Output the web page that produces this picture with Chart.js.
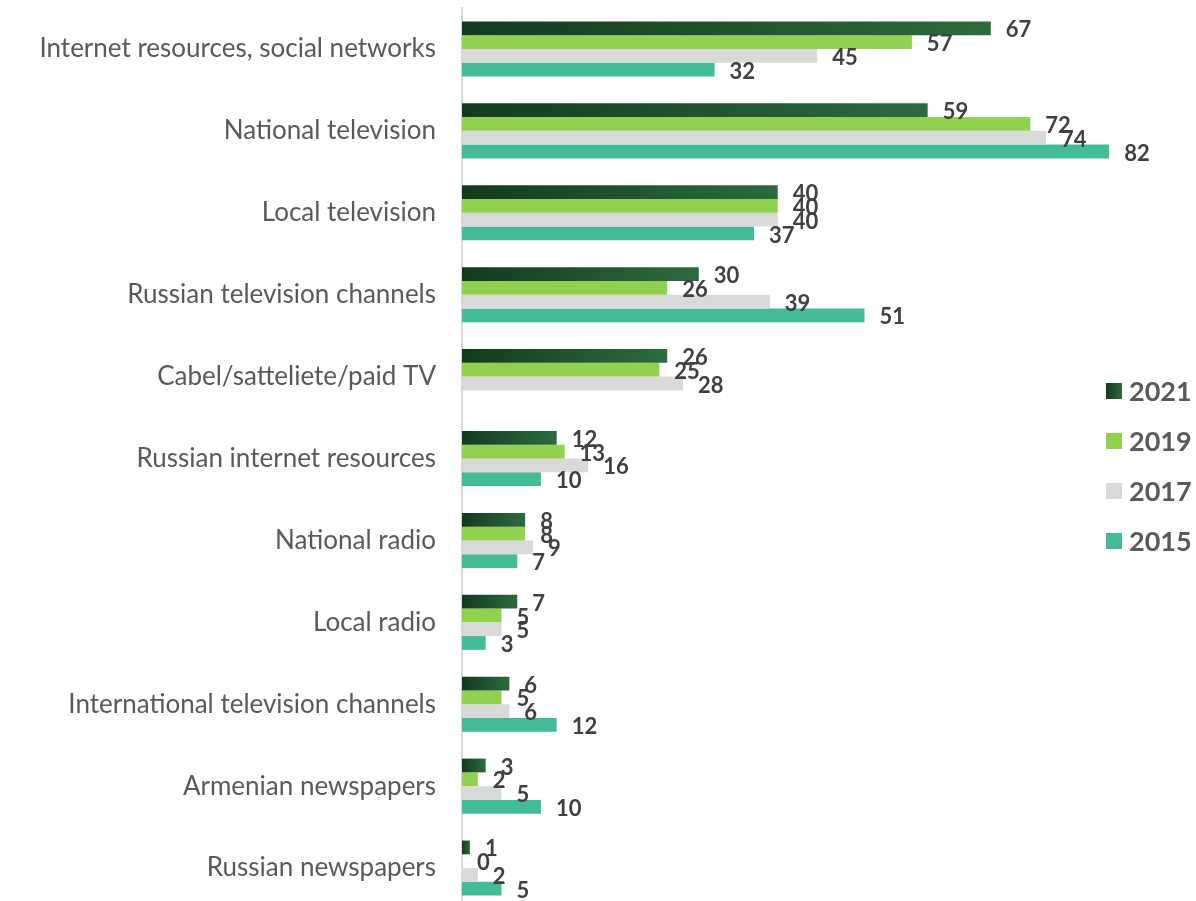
<!DOCTYPE html>
<html>
<head>
<meta charset="utf-8">
<script src="https://cdn.jsdelivr.net/npm/chart.js@4/dist/chart.umd.min.js"></script>
<style>
  html, body { margin: 0; padding: 0; background: #fff; overflow: hidden; }
  #wrap { width: 1196px; height: 912px; }
</style>
</head>
<body>
<div id="wrap"><canvas id="mediaChart"></canvas></div>
<script>
const sources = [
    'Internet resources, social networks',
    'National television',
    'Local television',
    'Russian television channels',
    'Cabel/satteliete/paid TV',
    'Russian internet resources',
    'National radio',
    'Local radio',
    'International television channels',
    'Armenian newspapers',
    'Russian newspapers'
];
const years = ['2021', '2019', '2017', '2015'];
const values2021 = [67, 59, 40, 30, 26, 12, 8, 7, 6, 3, 1];
const values2019 = [57, 72, 40, 26, 25, 13, 8, 5, 5, 2, 0];
const values2017 = [45, 74, 40, 39, 28, 16, 9, 5, 6, 5, 2];
const values2015 = [32, 82, 37, 51, null, 10, 7, 3, 12, 10, 5];

const FONT = 'Lato, "Open Sans", sans-serif';
const DARK_FROM = '#133a1e';
const DARK_TO = '#2c6b3e';

// 2021 bars fade from dark to lighter green along their own length
function darkGreen(ctx) {
    const chart = ctx.chart;
    if (!chart.chartArea || ctx.type !== 'data') return DARK_TO;
    const x = chart.scales.x;
    const x0 = x.getPixelForValue(0);
    const x1 = x.getPixelForValue(ctx.raw || 0);
    if (x1 - x0 < 1) return DARK_FROM;
    const g = chart.ctx.createLinearGradient(x0, 0, x1, 0);
    g.addColorStop(0, DARK_FROM);
    g.addColorStop(1, DARK_TO);
    return g;
}

const valueLabels = {
    id: 'valueLabels',
    afterDatasetsDraw(chart) {
        const ctx = chart.ctx;
        ctx.save();
        ctx.font = 'bold 22px ' + FONT;
        ctx.fillStyle = '#404040';
        ctx.textAlign = 'left';
        ctx.textBaseline = 'middle';
        chart.data.datasets.forEach((ds, i) => {
            const meta = chart.getDatasetMeta(i);
            meta.data.forEach((bar, j) => {
                const v = ds.data[j];
                if (v === null || v === undefined) return;
                ctx.fillText(String(v), bar.x + 15, bar.y + 2);
            });
        });
        ctx.restore();
    }
};

const sideLegend = {
    id: 'sideLegend',
    afterDraw(chart) {
        const ctx = chart.ctx;
        const boxX = 1106, textX = 1129, top = 391, step = 50, box = 16;
        ctx.save();
        ctx.font = 'bold 27px ' + FONT;
        ctx.textBaseline = 'middle';
        chart.data.datasets.forEach((ds, i) => {
            const y = top + i * step;
            if (i === 0) {
                const g = ctx.createLinearGradient(boxX, 0, boxX + box, 0);
                g.addColorStop(0, DARK_FROM);
                g.addColorStop(1, DARK_TO);
                ctx.fillStyle = g;
            } else {
                ctx.fillStyle = ds.backgroundColor;
            }
            ctx.fillRect(boxX, y - box / 2, box, box);
            ctx.fillStyle = '#595959';
            ctx.fillText(ds.label, textX, y + 1);
        });
        ctx.restore();
    }
};

new Chart(document.getElementById('mediaChart'), {
    type: 'bar',
    data: {
        labels: sources,
        datasets: [
            { label: years[0], data: values2021, backgroundColor: darkGreen },
            { label: years[1], data: values2019, backgroundColor: '#92d050' },
            { label: years[2], data: values2017, backgroundColor: '#d9d9d9' },
            { label: years[3], data: values2015, backgroundColor: '#43bb96' }
        ]
    },
    options: {
        indexAxis: 'y',
        responsive: true,
        maintainAspectRatio: false,
        animation: false,
        events: [],
        layout: { padding: { top: 8, bottom: 3, left: 0, right: 0 } },
        datasets: {
            bar: { categoryPercentage: 0.672, barPercentage: 1.0 }
        },
        plugins: {
            legend: { display: false },
            tooltip: { enabled: false }
        },
        scales: {
            x: {
                display: false,
                min: 0,
                max: 93
            },
            y: {
                // fixed axis position; labels shouldn't push the plot down
                afterFit(scale) {
                    scale.width = 462;
                    scale.paddingTop = 0;
                    scale.paddingBottom = 0;
                },
                grid: { display: false, drawTicks: false },
                border: { display: true, color: '#d9d9d9', width: 2 },
                ticks: {
                    color: '#595959',
                    font: { family: FONT, size: 26 },
                    padding: 26
                }
            }
        }
    },
    plugins: [valueLabels, sideLegend]
});
</script>
</body>
</html>
